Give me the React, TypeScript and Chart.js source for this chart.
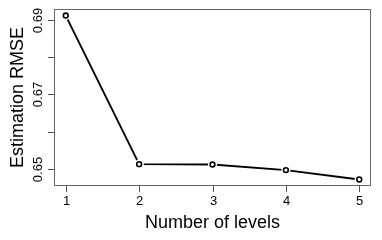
import React, { useEffect, useRef } from 'react';
import { Chart, registerables } from 'chart.js';

Chart.register(...registerables);

const levels = [1, 2, 3, 4, 5];
const rmse = [0.6911, 0.6513, 0.6512, 0.6497, 0.6472];
const xTicks = [1, 2, 3, 4, 5];
const xTickLabels = ['1', '2', '3', '4', '5'];
const yTicks = [0.65, 0.66, 0.67, 0.68, 0.69];
const yTickLabels = ['0.65', '', '0.67', '', '0.69'];
const xTitle = 'Number of levels';
const yTitle = 'Estimation RMSE';

const FONT = '"Liberation Sans", Arial, Helvetica, sans-serif';

function extendRange(vals: number[]) {
  const lo = Math.min(...vals);
  const hi = Math.max(...vals);
  const pad = (hi - lo) * 0.04;
  return [lo - pad, hi + pad];
}

const axesPlugin = {
  id: 'rAxes',
  afterDraw(chart: any) {
    const { ctx, chartArea: a, scales } = chart;
    const x = scales.x;
    const y = scales.y;
    ctx.save();
    // box
    ctx.strokeStyle = '#666';
    ctx.lineWidth = 1;
    ctx.strokeRect(a.left + 0.5, a.top + 0.5, a.right - a.left - 1, a.bottom - a.top - 1);
    // x ticks
    ctx.strokeStyle = '#555';
    ctx.fillStyle = '#000';
    ctx.font = `13px ${FONT}`;
    ctx.textAlign = 'center';
    ctx.textBaseline = 'alphabetic';
    xTicks.forEach((v, i) => {
      const px = Math.round(x.getPixelForValue(v)) + 0.5;
      ctx.beginPath();
      ctx.moveTo(px, a.bottom - 1);
      ctx.lineTo(px, a.bottom + 6);
      ctx.stroke();
      ctx.fillText(xTickLabels[i], px, 205);
    });
    // y ticks
    yTicks.forEach((v, i) => {
      const py = Math.round(y.getPixelForValue(v)) + 0.5;
      ctx.beginPath();
      ctx.moveTo(a.left - 6, py);
      ctx.lineTo(a.left + 1, py);
      ctx.stroke();
      if (yTickLabels[i]) {
        ctx.save();
        ctx.translate(41.5, py);
        ctx.rotate(-Math.PI / 2);
        ctx.fillText(yTickLabels[i], 0, 0);
        ctx.restore();
      }
    });
    // titles
    ctx.font = `18px ${FONT}`;
    ctx.fillText(xTitle, (a.left + a.right) / 2, 228);
    ctx.save();
    ctx.translate(23, (a.top + a.bottom) / 2);
    ctx.rotate(-Math.PI / 2);
    ctx.fillText(yTitle, 0, 0);
    ctx.restore();
    ctx.restore();
  },
};

export default function App() {
  const ref = useRef<HTMLCanvasElement | null>(null);
  useEffect(() => {
    if (!ref.current) return;
    const [xmin, xmax] = extendRange(levels);
    const [ymin, ymax] = extendRange(rmse);
    const pts = levels.map((l, i) => ({ x: l, y: rmse[i] }));
    const chart = new Chart(ref.current, {
      type: 'scatter',
      data: {
        datasets: [
          {
            data: pts,
            showLine: true,
            borderColor: '#000',
            borderWidth: 1.9,
            pointRadius: 0,
            tension: 0,
            clip: false,
            order: 3,
          } as any,
          {
            data: pts,
            showLine: false,
            pointRadius: 4.6,
            pointBorderWidth: 0,
            pointBackgroundColor: '#fff',
            pointBorderColor: '#fff',
            clip: false,
            order: 2,
          } as any,
          {
            data: pts,
            showLine: false,
            pointRadius: 2.4,
            pointBorderWidth: 1.6,
            pointBackgroundColor: 'rgba(255,255,255,0)',
            pointBorderColor: '#000',
            clip: false,
            order: 1,
          } as any,
        ],
      },
      options: {
        responsive: false,
        animation: false,
        devicePixelRatio: 1,
        layout: { padding: { left: 54, right: 11, top: 9, bottom: 54 } },
        plugins: { legend: { display: false }, tooltip: { enabled: false } },
        scales: {
          x: { type: 'linear', min: xmin, max: xmax, display: false },
          y: { type: 'linear', min: ymin, max: ymax, display: false },
        },
      },
      plugins: [axesPlugin],
    });
    return () => chart.destroy();
  }, []);
  return (
    <div style={{ position: 'fixed', left: 0, top: 0, width: 382, height: 240, background: '#fff' }}>
      <canvas ref={ref} width={382} height={240} style={{ display: 'block' }} />
    </div>
  );
}
